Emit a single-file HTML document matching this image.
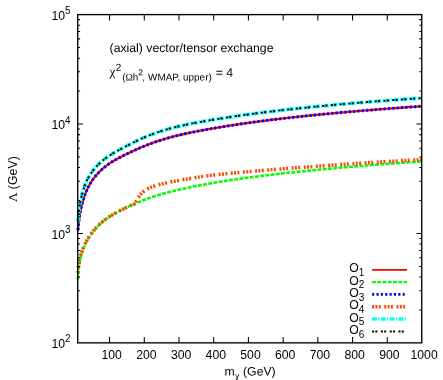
<!DOCTYPE html><html><head><meta charset="utf-8"><style>html,body{margin:0;padding:0;background:#fff}svg{display:block;will-change:transform}text{font-family:"Liberation Sans",sans-serif;fill:#000}.s{font-family:"Liberation Serif",serif}</style></head><body>
<svg width="443" height="380" viewBox="0 0 443 380">
<rect width="443" height="380" fill="#fff"/>
<g fill="none" stroke-linecap="butt" stroke-linejoin="round">
<path d="M77.85,231.44 L77.94,230.39 L78.03,229.38 L78.11,228.40 L78.20,227.45 L78.29,226.53 L78.38,225.64 L78.47,224.78 L78.55,223.96 L78.64,223.17 L78.73,222.40 L78.82,221.66 L78.91,220.95 L78.99,220.26 L79.08,219.59 L79.17,218.94 L79.26,218.31 L79.35,217.70 L79.43,217.11 L79.52,216.53 L79.61,215.97 L79.70,215.43 L79.79,214.90 L79.87,214.38 L79.96,213.87 L80.05,213.38 L80.14,212.89 L80.23,212.42 L80.31,211.96 L80.40,211.50 L80.49,211.06 L80.58,210.62 L80.67,210.19 L80.75,209.76 L80.84,209.34 L80.93,208.93 L81.02,208.53 L81.11,208.13 L81.19,207.73 L81.28,207.34 L81.37,206.96 L81.46,206.58 L81.55,206.21 L81.63,205.83 L81.72,205.47 L81.81,205.11 L81.90,204.75 L81.99,204.40 L82.07,204.05 L82.16,203.70 L82.25,203.36 L82.34,203.02 L82.43,202.69 L82.51,202.36 L82.60,202.04 L82.69,201.72 L82.78,201.40 L82.87,201.08 L82.95,200.77 L83.04,200.47 L83.13,200.16 L83.22,199.87 L83.31,199.57 L83.39,199.28 L83.48,198.99 L83.57,198.70 L83.66,198.42 L83.75,198.14 L83.83,197.86 L83.92,197.59 L84.01,197.32 L84.10,197.05 L84.19,196.79 L84.27,196.53 L84.36,196.27 L84.45,196.01 L84.54,195.76 L84.63,195.51 L84.71,195.26 L84.80,195.02 L85.22,193.90 L85.63,192.84 L86.05,191.82 L86.46,190.85 L86.88,189.92 L87.29,189.03 L87.70,188.17 L88.12,187.35 L88.53,186.55 L88.95,185.78 L89.36,185.03 L89.78,184.31 L90.19,183.61 L90.61,182.93 L91.02,182.27 L91.43,181.62 L91.85,181.00 L92.26,180.39 L92.68,179.79 L93.09,179.21 L93.51,178.65 L93.92,178.10 L94.34,177.56 L94.75,177.03 L95.17,176.51 L95.58,176.01 L95.99,175.51 L96.41,175.03 L96.82,174.55 L97.24,174.09 L97.65,173.63 L98.07,173.19 L98.48,172.75 L98.90,172.31 L99.31,171.89 L99.73,171.47 L100.14,171.06 L100.55,170.66 L100.97,170.27 L101.38,169.88 L101.80,169.50 L102.21,169.12 L102.63,168.75 L103.04,168.39 L103.46,168.04 L103.87,167.69 L104.29,167.34 L104.70,167.00 L105.11,166.67 L105.53,166.34 L105.94,166.02 L106.36,165.70 L106.77,165.39 L107.19,165.08 L107.60,164.78 L108.02,164.48 L108.43,164.19 L108.84,163.90 L109.26,163.62 L109.67,163.34 L110.09,163.07 L110.50,162.80 L110.92,162.53 L111.33,162.26 L111.75,162.00 L112.16,161.75 L112.58,161.49 L112.99,161.24 L113.40,161.00 L113.82,160.75 L114.23,160.51 L114.65,160.27 L115.06,160.03 L115.48,159.79 L115.89,159.56 L116.31,159.33 L116.72,159.10 L117.14,158.87 L117.55,158.65 L117.96,158.42 L118.38,158.20 L118.79,157.98 L119.21,157.76 L119.62,157.54 L120.04,157.33 L120.45,157.11 L120.87,156.90 L121.28,156.68 L121.70,156.47 L122.11,156.26 L122.52,156.05 L122.94,155.84 L123.35,155.63 L123.77,155.42 L124.18,155.22 L124.60,155.01 L125.01,154.81 L125.43,154.60 L125.84,154.40 L126.25,154.20 L126.67,153.99 L127.08,153.79 L127.50,153.59 L127.91,153.39 L128.33,153.19 L128.74,152.99 L129.16,152.79 L129.57,152.60 L129.99,152.40 L130.40,152.20 L130.81,152.01 L131.23,151.81 L131.64,151.62 L132.06,151.43 L132.47,151.23 L132.89,151.04 L133.30,150.85 L133.72,150.66 L134.13,150.47 L134.17,150.46 L134.29,150.40 L134.41,150.35 L134.53,150.29 L134.64,150.24 L134.76,150.18 L134.88,150.13 L135.00,150.07 L135.12,150.02 L135.24,149.97 L135.36,149.91 L135.48,149.86 L135.60,149.81 L135.72,149.75 L135.84,149.70 L135.96,149.64 L136.08,149.59 L136.20,149.54 L136.32,149.48 L136.44,149.43 L136.56,149.38 L136.68,149.32 L136.80,149.27 L136.92,149.22 L137.04,149.17 L137.16,149.11 L137.28,149.06 L137.40,149.01 L137.52,148.95 L137.64,148.90 L138.74,148.42 L139.84,147.95 L140.94,147.48 L142.03,147.02 L143.13,146.57 L144.23,146.12 L145.33,145.68 L146.42,145.25 L147.52,144.82 L148.62,144.40 L149.72,143.98 L150.82,143.57 L151.91,143.17 L153.01,142.77 L154.11,142.38 L155.21,142.00 L156.31,141.62 L157.40,141.25 L158.50,140.89 L159.60,140.53 L160.70,140.18 L161.80,139.84 L162.89,139.50 L163.99,139.17 L165.09,138.84 L166.19,138.52 L167.29,138.21 L168.38,137.90 L169.48,137.60 L170.58,137.30 L171.68,137.01 L172.77,136.72 L173.87,136.43 L174.97,136.16 L176.07,135.88 L177.17,135.61 L178.26,135.34 L179.36,135.08 L180.46,134.82 L181.56,134.57 L182.66,134.32 L183.75,134.07 L184.85,133.82 L185.95,133.58 L187.05,133.34 L188.15,133.11 L189.24,132.87 L190.34,132.64 L191.44,132.42 L192.54,132.19 L193.64,131.97 L194.73,131.75 L195.83,131.53 L196.93,131.32 L198.03,131.11 L199.12,130.89 L200.22,130.69 L201.32,130.48 L202.42,130.27 L203.52,130.07 L204.61,129.87 L205.71,129.67 L206.81,129.47 L207.91,129.27 L209.01,129.08 L210.10,128.88 L211.20,128.69 L212.30,128.50 L213.40,128.31 L214.50,128.12 L215.59,127.94 L216.69,127.75 L217.79,127.57 L218.89,127.38 L219.98,127.20 L221.08,127.02 L222.18,126.84 L223.28,126.66 L224.38,126.48 L225.47,126.31 L226.57,126.13 L227.67,125.96 L228.77,125.79 L229.87,125.61 L230.96,125.44 L232.06,125.27 L233.16,125.11 L234.26,124.94 L235.36,124.77 L236.45,124.61 L237.55,124.44 L238.65,124.28 L239.75,124.12 L240.85,123.96 L241.94,123.80 L243.04,123.64 L244.14,123.48 L245.24,123.32 L246.33,123.17 L247.43,123.01 L248.53,122.86 L249.63,122.70 L250.73,122.55 L251.82,122.40 L252.92,122.25 L254.02,122.10 L255.12,121.95 L256.22,121.80 L257.31,121.66 L258.41,121.51 L259.51,121.37 L260.61,121.22 L261.71,121.08 L262.80,120.94 L263.90,120.79 L265.00,120.65 L266.10,120.51 L267.19,120.37 L268.29,120.24 L269.39,120.10 L270.49,119.96 L271.59,119.83 L272.68,119.69 L273.78,119.56 L274.88,119.42 L275.98,119.29 L277.08,119.16 L278.17,119.03 L279.27,118.90 L280.37,118.77 L281.47,118.64 L282.57,118.51 L283.66,118.38 L284.76,118.25 L285.86,118.13 L286.96,118.00 L288.06,117.88 L289.15,117.75 L290.25,117.63 L291.35,117.51 L292.45,117.39 L293.54,117.26 L294.64,117.14 L295.74,117.02 L296.84,116.90 L297.94,116.78 L299.03,116.67 L300.13,116.55 L301.23,116.43 L302.33,116.32 L303.43,116.20 L304.52,116.08 L305.62,115.97 L306.72,115.86 L307.82,115.74 L308.92,115.63 L310.01,115.52 L311.11,115.40 L312.21,115.29 L313.31,115.18 L314.40,115.07 L315.50,114.96 L316.60,114.85 L317.70,114.74 L318.80,114.64 L319.89,114.53 L320.99,114.42 L322.09,114.31 L323.19,114.21 L324.29,114.10 L325.38,114.00 L326.48,113.89 L327.58,113.79 L328.68,113.68 L329.78,113.58 L330.87,113.48 L331.97,113.38 L333.07,113.27 L334.17,113.17 L335.27,113.07 L336.36,112.97 L337.46,112.87 L338.56,112.77 L339.66,112.67 L340.75,112.57 L341.85,112.47 L342.95,112.38 L344.05,112.28 L345.15,112.18 L346.24,112.08 L347.34,111.99 L348.44,111.89 L349.54,111.80 L350.64,111.70 L351.73,111.61 L352.83,111.51 L353.93,111.42 L355.03,111.32 L356.13,111.23 L357.22,111.14 L358.32,111.05 L359.42,110.95 L360.52,110.86 L361.62,110.77 L362.71,110.68 L363.81,110.59 L364.91,110.50 L366.01,110.41 L367.10,110.32 L368.20,110.23 L369.30,110.14 L370.40,110.05 L371.50,109.96 L372.59,109.88 L373.69,109.79 L374.79,109.70 L375.89,109.61 L376.99,109.53 L378.08,109.44 L379.18,109.35 L380.28,109.27 L381.38,109.18 L382.48,109.10 L383.57,109.01 L384.67,108.93 L385.77,108.84 L386.87,108.76 L387.96,108.68 L389.06,108.59 L390.16,108.51 L391.26,108.43 L392.36,108.35 L393.45,108.26 L394.55,108.18 L395.65,108.10 L396.75,108.02 L397.85,107.94 L398.94,107.86 L400.04,107.78 L401.14,107.70 L402.24,107.62 L403.34,107.54 L404.43,107.46 L405.53,107.38 L406.63,107.30 L407.73,107.22 L408.83,107.14 L409.92,107.06 L411.02,106.99 L412.12,106.91 L413.22,106.83 L414.31,106.75 L415.41,106.68 L416.51,106.60 L417.61,106.52 L418.71,106.45 L419.80,106.37 L420.90,106.30 L422.00,106.22" stroke="#ff0000" stroke-width="2.20"/>
<path d="M77.85,279.52 L77.94,278.22 L78.03,276.96 L78.11,275.76 L78.20,274.61 L78.29,273.51 L78.38,272.47 L78.47,271.49 L78.55,270.57 L78.64,269.69 L78.73,268.87 L78.82,268.10 L78.91,267.37 L78.99,266.67 L79.08,266.01 L79.17,265.38 L79.26,264.78 L79.35,264.20 L79.43,263.65 L79.52,263.11 L79.61,262.60 L79.70,262.11 L79.79,261.63 L79.87,261.17 L79.96,260.72 L80.05,260.28 L80.14,259.86 L80.23,259.45 L80.31,259.05 L80.40,258.66 L80.49,258.28 L80.58,257.91 L80.67,257.55 L80.75,257.19 L80.84,256.85 L80.93,256.51 L81.02,256.17 L81.11,255.84 L81.19,255.52 L81.28,255.20 L81.37,254.89 L81.46,254.58 L81.55,254.28 L81.63,253.98 L81.72,253.68 L81.81,253.39 L81.90,253.11 L81.99,252.82 L82.07,252.54 L82.16,252.27 L82.25,252.00 L82.34,251.73 L82.43,251.46 L82.51,251.20 L82.60,250.94 L82.69,250.69 L82.78,250.43 L82.87,250.18 L82.95,249.94 L83.04,249.69 L83.13,249.45 L83.22,249.21 L83.31,248.98 L83.39,248.74 L83.48,248.51 L83.57,248.28 L83.66,248.06 L83.75,247.83 L83.83,247.61 L83.92,247.39 L84.01,247.17 L84.10,246.96 L84.19,246.75 L84.27,246.54 L84.36,246.33 L84.45,246.12 L84.54,245.91 L84.63,245.71 L84.71,245.51 L84.80,245.31 L85.22,244.40 L85.63,243.52 L86.05,242.67 L86.46,241.85 L86.88,241.06 L87.29,240.30 L87.70,239.56 L88.12,238.85 L88.53,238.15 L88.95,237.48 L89.36,236.82 L89.78,236.18 L90.19,235.56 L90.61,234.95 L91.02,234.36 L91.43,233.78 L91.85,233.21 L92.26,232.66 L92.68,232.12 L93.09,231.58 L93.51,231.06 L93.92,230.56 L94.34,230.06 L94.75,229.57 L95.17,229.09 L95.58,228.62 L95.99,228.16 L96.41,227.71 L96.82,227.26 L97.24,226.83 L97.65,226.40 L98.07,225.98 L98.48,225.57 L98.90,225.16 L99.31,224.76 L99.73,224.37 L100.14,223.99 L100.55,223.61 L100.97,223.24 L101.38,222.87 L101.80,222.51 L102.21,222.16 L102.63,221.81 L103.04,221.46 L103.46,221.13 L103.87,220.79 L104.29,220.47 L104.70,220.14 L105.11,219.83 L105.53,219.51 L105.94,219.20 L106.36,218.90 L106.77,218.60 L107.19,218.30 L107.60,218.01 L108.02,217.73 L108.43,217.44 L108.84,217.16 L109.26,216.89 L109.67,216.62 L110.09,216.35 L110.50,216.08 L110.92,215.82 L111.33,215.56 L111.75,215.31 L112.16,215.06 L112.58,214.81 L112.99,214.56 L113.40,214.31 L113.82,214.07 L114.23,213.83 L114.65,213.60 L115.06,213.36 L115.48,213.13 L115.89,212.90 L116.31,212.67 L116.72,212.44 L117.14,212.22 L117.55,212.00 L117.96,211.77 L118.38,211.56 L118.79,211.34 L119.21,211.12 L119.62,210.91 L120.04,210.69 L120.45,210.48 L120.87,210.27 L121.28,210.06 L121.70,209.86 L122.11,209.65 L122.52,209.44 L122.94,209.24 L123.35,209.04 L123.77,208.83 L124.18,208.63 L124.60,208.43 L125.01,208.24 L125.43,208.04 L125.84,207.84 L126.25,207.65 L126.67,207.45 L127.08,207.26 L127.50,207.06 L127.91,206.87 L128.33,206.68 L128.74,206.49 L129.16,206.30 L129.57,206.11 L129.99,205.92 L130.40,205.73 L130.81,205.54 L131.23,205.36 L131.64,205.17 L132.06,204.99 L132.47,204.80 L132.89,204.62 L133.30,204.43 L133.72,204.25 L134.13,204.07 L134.17,204.05 L134.29,204.00 L134.41,203.95 L134.53,203.90 L134.64,203.84 L134.76,203.79 L134.88,203.74 L135.00,203.69 L135.12,203.63 L135.24,203.58 L135.36,203.53 L135.48,203.48 L135.60,203.43 L135.72,203.37 L135.84,203.32 L135.96,203.27 L136.08,203.22 L136.20,203.17 L136.32,203.11 L136.44,203.06 L136.56,203.01 L136.68,202.96 L136.80,202.91 L136.92,202.86 L137.04,202.81 L137.16,202.75 L137.28,202.70 L137.40,202.65 L137.52,202.60 L137.64,202.55 L138.74,202.09 L139.84,201.63 L140.94,201.18 L142.03,200.74 L143.13,200.30 L144.23,199.88 L145.33,199.46 L146.42,199.05 L147.52,198.64 L148.62,198.25 L149.72,197.86 L150.82,197.48 L151.91,197.11 L153.01,196.74 L154.11,196.39 L155.21,196.04 L156.31,195.70 L157.40,195.36 L158.50,195.03 L159.60,194.71 L160.70,194.39 L161.80,194.08 L162.89,193.77 L163.99,193.47 L165.09,193.17 L166.19,192.88 L167.29,192.59 L168.38,192.31 L169.48,192.02 L170.58,191.75 L171.68,191.47 L172.77,191.20 L173.87,190.93 L174.97,190.67 L176.07,190.41 L177.17,190.15 L178.26,189.89 L179.36,189.64 L180.46,189.39 L181.56,189.14 L182.66,188.89 L183.75,188.65 L184.85,188.41 L185.95,188.17 L187.05,187.93 L188.15,187.69 L189.24,187.46 L190.34,187.23 L191.44,187.00 L192.54,186.78 L193.64,186.55 L194.73,186.33 L195.83,186.11 L196.93,185.90 L198.03,185.68 L199.12,185.47 L200.22,185.26 L201.32,185.05 L202.42,184.84 L203.52,184.63 L204.61,184.43 L205.71,184.23 L206.81,184.03 L207.91,183.83 L209.01,183.64 L210.10,183.44 L211.20,183.25 L212.30,183.06 L213.40,182.87 L214.50,182.68 L215.59,182.50 L216.69,182.31 L217.79,182.13 L218.89,181.95 L219.98,181.77 L221.08,181.59 L222.18,181.42 L223.28,181.24 L224.38,181.07 L225.47,180.90 L226.57,180.73 L227.67,180.56 L228.77,180.39 L229.87,180.23 L230.96,180.06 L232.06,179.90 L233.16,179.74 L234.26,179.58 L235.36,179.42 L236.45,179.26 L237.55,179.10 L238.65,178.94 L239.75,178.79 L240.85,178.63 L241.94,178.48 L243.04,178.33 L244.14,178.18 L245.24,178.03 L246.33,177.88 L247.43,177.73 L248.53,177.58 L249.63,177.44 L250.73,177.29 L251.82,177.15 L252.92,177.01 L254.02,176.86 L255.12,176.72 L256.22,176.58 L257.31,176.44 L258.41,176.30 L259.51,176.16 L260.61,176.03 L261.71,175.89 L262.80,175.75 L263.90,175.62 L265.00,175.49 L266.10,175.35 L267.19,175.22 L268.29,175.09 L269.39,174.96 L270.49,174.83 L271.59,174.70 L272.68,174.57 L273.78,174.44 L274.88,174.31 L275.98,174.19 L277.08,174.06 L278.17,173.93 L279.27,173.81 L280.37,173.68 L281.47,173.56 L282.57,173.44 L283.66,173.31 L284.76,173.19 L285.86,173.07 L286.96,172.95 L288.06,172.83 L289.15,172.71 L290.25,172.59 L291.35,172.47 L292.45,172.35 L293.54,172.24 L294.64,172.12 L295.74,172.00 L296.84,171.89 L297.94,171.77 L299.03,171.66 L300.13,171.54 L301.23,171.43 L302.33,171.32 L303.43,171.21 L304.52,171.09 L305.62,170.98 L306.72,170.87 L307.82,170.76 L308.92,170.65 L310.01,170.54 L311.11,170.43 L312.21,170.32 L313.31,170.21 L314.40,170.11 L315.50,170.00 L316.60,169.89 L317.70,169.79 L318.80,169.68 L319.89,169.58 L320.99,169.47 L322.09,169.37 L323.19,169.26 L324.29,169.16 L325.38,169.06 L326.48,168.95 L327.58,168.85 L328.68,168.75 L329.78,168.65 L330.87,168.55 L331.97,168.45 L333.07,168.34 L334.17,168.24 L335.27,168.15 L336.36,168.05 L337.46,167.95 L338.56,167.85 L339.66,167.75 L340.75,167.65 L341.85,167.56 L342.95,167.46 L344.05,167.36 L345.15,167.27 L346.24,167.17 L347.34,167.08 L348.44,166.98 L349.54,166.89 L350.64,166.79 L351.73,166.70 L352.83,166.61 L353.93,166.51 L355.03,166.42 L356.13,166.33 L357.22,166.24 L358.32,166.15 L359.42,166.05 L360.52,165.96 L361.62,165.87 L362.71,165.78 L363.81,165.69 L364.91,165.60 L366.01,165.51 L367.10,165.43 L368.20,165.34 L369.30,165.25 L370.40,165.16 L371.50,165.07 L372.59,164.99 L373.69,164.90 L374.79,164.81 L375.89,164.73 L376.99,164.64 L378.08,164.55 L379.18,164.47 L380.28,164.38 L381.38,164.30 L382.48,164.21 L383.57,164.13 L384.67,164.05 L385.77,163.96 L386.87,163.88 L387.96,163.80 L389.06,163.71 L390.16,163.63 L391.26,163.55 L392.36,163.47 L393.45,163.38 L394.55,163.30 L395.65,163.22 L396.75,163.14 L397.85,163.06 L398.94,162.98 L400.04,162.90 L401.14,162.82 L402.24,162.74 L403.34,162.66 L404.43,162.58 L405.53,162.50 L406.63,162.43 L407.73,162.35 L408.83,162.27 L409.92,162.19 L411.02,162.11 L412.12,162.04 L413.22,161.96 L414.31,161.88 L415.41,161.81 L416.51,161.73 L417.61,161.66 L418.71,161.58 L419.80,161.50 L420.90,161.43 L422.00,161.35" stroke="#00ff00" stroke-width="2.60" stroke-dasharray="3.9 1.35" stroke-dashoffset="0.3"/>
<path d="M77.85,231.44 L77.94,230.39 L78.03,229.38 L78.11,228.40 L78.20,227.45 L78.29,226.53 L78.38,225.64 L78.47,224.78 L78.55,223.96 L78.64,223.17 L78.73,222.40 L78.82,221.66 L78.91,220.95 L78.99,220.26 L79.08,219.59 L79.17,218.94 L79.26,218.31 L79.35,217.70 L79.43,217.11 L79.52,216.53 L79.61,215.97 L79.70,215.43 L79.79,214.90 L79.87,214.38 L79.96,213.87 L80.05,213.38 L80.14,212.89 L80.23,212.42 L80.31,211.96 L80.40,211.50 L80.49,211.06 L80.58,210.62 L80.67,210.19 L80.75,209.76 L80.84,209.34 L80.93,208.93 L81.02,208.53 L81.11,208.13 L81.19,207.73 L81.28,207.34 L81.37,206.96 L81.46,206.58 L81.55,206.21 L81.63,205.83 L81.72,205.47 L81.81,205.11 L81.90,204.75 L81.99,204.40 L82.07,204.05 L82.16,203.70 L82.25,203.36 L82.34,203.02 L82.43,202.69 L82.51,202.36 L82.60,202.04 L82.69,201.72 L82.78,201.40 L82.87,201.08 L82.95,200.77 L83.04,200.47 L83.13,200.16 L83.22,199.87 L83.31,199.57 L83.39,199.28 L83.48,198.99 L83.57,198.70 L83.66,198.42 L83.75,198.14 L83.83,197.86 L83.92,197.59 L84.01,197.32 L84.10,197.05 L84.19,196.79 L84.27,196.53 L84.36,196.27 L84.45,196.01 L84.54,195.76 L84.63,195.51 L84.71,195.26 L84.80,195.02 L85.22,193.90 L85.63,192.84 L86.05,191.82 L86.46,190.85 L86.88,189.92 L87.29,189.03 L87.70,188.17 L88.12,187.35 L88.53,186.55 L88.95,185.78 L89.36,185.03 L89.78,184.31 L90.19,183.61 L90.61,182.93 L91.02,182.27 L91.43,181.62 L91.85,181.00 L92.26,180.39 L92.68,179.79 L93.09,179.21 L93.51,178.65 L93.92,178.10 L94.34,177.56 L94.75,177.03 L95.17,176.51 L95.58,176.01 L95.99,175.51 L96.41,175.03 L96.82,174.55 L97.24,174.09 L97.65,173.63 L98.07,173.19 L98.48,172.75 L98.90,172.31 L99.31,171.89 L99.73,171.47 L100.14,171.06 L100.55,170.66 L100.97,170.27 L101.38,169.88 L101.80,169.50 L102.21,169.12 L102.63,168.75 L103.04,168.39 L103.46,168.04 L103.87,167.69 L104.29,167.34 L104.70,167.00 L105.11,166.67 L105.53,166.34 L105.94,166.02 L106.36,165.70 L106.77,165.39 L107.19,165.08 L107.60,164.78 L108.02,164.48 L108.43,164.19 L108.84,163.90 L109.26,163.62 L109.67,163.34 L110.09,163.07 L110.50,162.80 L110.92,162.53 L111.33,162.26 L111.75,162.00 L112.16,161.75 L112.58,161.49 L112.99,161.24 L113.40,161.00 L113.82,160.75 L114.23,160.51 L114.65,160.27 L115.06,160.03 L115.48,159.79 L115.89,159.56 L116.31,159.33 L116.72,159.10 L117.14,158.87 L117.55,158.65 L117.96,158.42 L118.38,158.20 L118.79,157.98 L119.21,157.76 L119.62,157.54 L120.04,157.33 L120.45,157.11 L120.87,156.90 L121.28,156.68 L121.70,156.47 L122.11,156.26 L122.52,156.05 L122.94,155.84 L123.35,155.63 L123.77,155.42 L124.18,155.22 L124.60,155.01 L125.01,154.81 L125.43,154.60 L125.84,154.40 L126.25,154.20 L126.67,153.99 L127.08,153.79 L127.50,153.59 L127.91,153.39 L128.33,153.19 L128.74,152.99 L129.16,152.79 L129.57,152.60 L129.99,152.40 L130.40,152.20 L130.81,152.01 L131.23,151.81 L131.64,151.62 L132.06,151.43 L132.47,151.23 L132.89,151.04 L133.30,150.85 L133.72,150.66 L134.13,150.47 L134.17,150.46 L134.29,150.40 L134.41,150.35 L134.53,150.29 L134.64,150.24 L134.76,150.18 L134.88,150.13 L135.00,150.07 L135.12,150.02 L135.24,149.97 L135.36,149.91 L135.48,149.86 L135.60,149.81 L135.72,149.75 L135.84,149.70 L135.96,149.64 L136.08,149.59 L136.20,149.54 L136.32,149.48 L136.44,149.43 L136.56,149.38 L136.68,149.32 L136.80,149.27 L136.92,149.22 L137.04,149.17 L137.16,149.11 L137.28,149.06 L137.40,149.01 L137.52,148.95 L137.64,148.90 L138.74,148.42 L139.84,147.95 L140.94,147.48 L142.03,147.02 L143.13,146.57 L144.23,146.12 L145.33,145.68 L146.42,145.25 L147.52,144.82 L148.62,144.40 L149.72,143.98 L150.82,143.57 L151.91,143.17 L153.01,142.77 L154.11,142.38 L155.21,142.00 L156.31,141.62 L157.40,141.25 L158.50,140.89 L159.60,140.53 L160.70,140.18 L161.80,139.84 L162.89,139.50 L163.99,139.17 L165.09,138.84 L166.19,138.52 L167.29,138.21 L168.38,137.90 L169.48,137.60 L170.58,137.30 L171.68,137.01 L172.77,136.72 L173.87,136.43 L174.97,136.16 L176.07,135.88 L177.17,135.61 L178.26,135.34 L179.36,135.08 L180.46,134.82 L181.56,134.57 L182.66,134.32 L183.75,134.07 L184.85,133.82 L185.95,133.58 L187.05,133.34 L188.15,133.11 L189.24,132.87 L190.34,132.64 L191.44,132.42 L192.54,132.19 L193.64,131.97 L194.73,131.75 L195.83,131.53 L196.93,131.32 L198.03,131.11 L199.12,130.89 L200.22,130.69 L201.32,130.48 L202.42,130.27 L203.52,130.07 L204.61,129.87 L205.71,129.67 L206.81,129.47 L207.91,129.27 L209.01,129.08 L210.10,128.88 L211.20,128.69 L212.30,128.50 L213.40,128.31 L214.50,128.12 L215.59,127.94 L216.69,127.75 L217.79,127.57 L218.89,127.38 L219.98,127.20 L221.08,127.02 L222.18,126.84 L223.28,126.66 L224.38,126.48 L225.47,126.31 L226.57,126.13 L227.67,125.96 L228.77,125.79 L229.87,125.61 L230.96,125.44 L232.06,125.27 L233.16,125.11 L234.26,124.94 L235.36,124.77 L236.45,124.61 L237.55,124.44 L238.65,124.28 L239.75,124.12 L240.85,123.96 L241.94,123.80 L243.04,123.64 L244.14,123.48 L245.24,123.32 L246.33,123.17 L247.43,123.01 L248.53,122.86 L249.63,122.70 L250.73,122.55 L251.82,122.40 L252.92,122.25 L254.02,122.10 L255.12,121.95 L256.22,121.80 L257.31,121.66 L258.41,121.51 L259.51,121.37 L260.61,121.22 L261.71,121.08 L262.80,120.94 L263.90,120.79 L265.00,120.65 L266.10,120.51 L267.19,120.37 L268.29,120.24 L269.39,120.10 L270.49,119.96 L271.59,119.83 L272.68,119.69 L273.78,119.56 L274.88,119.42 L275.98,119.29 L277.08,119.16 L278.17,119.03 L279.27,118.90 L280.37,118.77 L281.47,118.64 L282.57,118.51 L283.66,118.38 L284.76,118.25 L285.86,118.13 L286.96,118.00 L288.06,117.88 L289.15,117.75 L290.25,117.63 L291.35,117.51 L292.45,117.39 L293.54,117.26 L294.64,117.14 L295.74,117.02 L296.84,116.90 L297.94,116.78 L299.03,116.67 L300.13,116.55 L301.23,116.43 L302.33,116.32 L303.43,116.20 L304.52,116.08 L305.62,115.97 L306.72,115.86 L307.82,115.74 L308.92,115.63 L310.01,115.52 L311.11,115.40 L312.21,115.29 L313.31,115.18 L314.40,115.07 L315.50,114.96 L316.60,114.85 L317.70,114.74 L318.80,114.64 L319.89,114.53 L320.99,114.42 L322.09,114.31 L323.19,114.21 L324.29,114.10 L325.38,114.00 L326.48,113.89 L327.58,113.79 L328.68,113.68 L329.78,113.58 L330.87,113.48 L331.97,113.38 L333.07,113.27 L334.17,113.17 L335.27,113.07 L336.36,112.97 L337.46,112.87 L338.56,112.77 L339.66,112.67 L340.75,112.57 L341.85,112.47 L342.95,112.38 L344.05,112.28 L345.15,112.18 L346.24,112.08 L347.34,111.99 L348.44,111.89 L349.54,111.80 L350.64,111.70 L351.73,111.61 L352.83,111.51 L353.93,111.42 L355.03,111.32 L356.13,111.23 L357.22,111.14 L358.32,111.05 L359.42,110.95 L360.52,110.86 L361.62,110.77 L362.71,110.68 L363.81,110.59 L364.91,110.50 L366.01,110.41 L367.10,110.32 L368.20,110.23 L369.30,110.14 L370.40,110.05 L371.50,109.96 L372.59,109.88 L373.69,109.79 L374.79,109.70 L375.89,109.61 L376.99,109.53 L378.08,109.44 L379.18,109.35 L380.28,109.27 L381.38,109.18 L382.48,109.10 L383.57,109.01 L384.67,108.93 L385.77,108.84 L386.87,108.76 L387.96,108.68 L389.06,108.59 L390.16,108.51 L391.26,108.43 L392.36,108.35 L393.45,108.26 L394.55,108.18 L395.65,108.10 L396.75,108.02 L397.85,107.94 L398.94,107.86 L400.04,107.78 L401.14,107.70 L402.24,107.62 L403.34,107.54 L404.43,107.46 L405.53,107.38 L406.63,107.30 L407.73,107.22 L408.83,107.14 L409.92,107.06 L411.02,106.99 L412.12,106.91 L413.22,106.83 L414.31,106.75 L415.41,106.68 L416.51,106.60 L417.61,106.52 L418.71,106.45 L419.80,106.37 L420.90,106.30 L422.00,106.22" stroke="#0000ff" stroke-width="3.00" stroke-dasharray="2.1 2.27" stroke-dashoffset="-1.4"/>
<path d="M77.85,272.74 L77.94,271.66 L78.03,270.62 L78.11,269.62 L78.20,268.66 L78.29,267.76 L78.38,266.90 L78.47,266.09 L78.55,265.33 L78.64,264.62 L78.73,263.95 L78.82,263.32 L78.91,262.73 L78.99,262.17 L79.08,261.64 L79.17,261.13 L79.26,260.65 L79.35,260.19 L79.43,259.75 L79.52,259.32 L79.61,258.91 L79.70,258.52 L79.79,258.13 L79.87,257.76 L79.96,257.40 L80.05,257.05 L80.14,256.71 L80.23,256.38 L80.31,256.06 L80.40,255.74 L80.49,255.44 L80.58,255.13 L80.67,254.84 L80.75,254.55 L80.84,254.26 L80.93,253.98 L81.02,253.71 L81.11,253.43 L81.19,253.17 L81.28,252.90 L81.37,252.64 L81.46,252.38 L81.55,252.13 L81.63,251.87 L81.72,251.62 L81.81,251.37 L81.90,251.13 L81.99,250.89 L82.07,250.65 L82.16,250.41 L82.25,250.18 L82.34,249.94 L82.43,249.71 L82.51,249.49 L82.60,249.26 L82.69,249.04 L82.78,248.82 L82.87,248.60 L82.95,248.38 L83.04,248.16 L83.13,247.95 L83.22,247.74 L83.31,247.53 L83.39,247.32 L83.48,247.12 L83.57,246.91 L83.66,246.71 L83.75,246.51 L83.83,246.31 L83.92,246.11 L84.01,245.92 L84.10,245.73 L84.19,245.53 L84.27,245.34 L84.36,245.15 L84.45,244.97 L84.54,244.78 L84.63,244.59 L84.71,244.41 L84.80,244.23 L85.22,243.39 L85.63,242.58 L86.05,241.79 L86.46,241.03 L86.88,240.30 L87.29,239.58 L87.70,238.89 L88.12,238.21 L88.53,237.55 L88.95,236.91 L89.36,236.28 L89.78,235.67 L90.19,235.07 L90.61,234.49 L91.02,233.92 L91.43,233.36 L91.85,232.81 L92.26,232.28 L92.68,231.75 L93.09,231.24 L93.51,230.73 L93.92,230.24 L94.34,229.75 L94.75,229.27 L95.17,228.80 L95.58,228.35 L95.99,227.90 L96.41,227.45 L96.82,227.02 L97.24,226.59 L97.65,226.17 L98.07,225.76 L98.48,225.35 L98.90,224.96 L99.31,224.56 L99.73,224.18 L100.14,223.80 L100.55,223.43 L100.97,223.06 L101.38,222.70 L101.80,222.35 L102.21,222.00 L102.63,221.65 L103.04,221.31 L103.46,220.98 L103.87,220.65 L104.29,220.33 L104.70,220.01 L105.11,219.69 L105.53,219.38 L105.94,219.08 L106.36,218.78 L106.77,218.48 L107.19,218.19 L107.60,217.90 L108.02,217.62 L108.43,217.34 L108.84,217.06 L109.26,216.79 L109.67,216.52 L110.09,216.25 L110.50,215.99 L110.92,215.73 L111.33,215.47 L111.75,215.22 L112.16,214.97 L112.58,214.72 L112.99,214.48 L113.40,214.23 L113.82,213.99 L114.23,213.76 L114.65,213.52 L115.06,213.29 L115.48,213.06 L115.89,212.83 L116.31,212.60 L116.72,212.37 L117.14,212.15 L117.55,211.93 L117.96,211.71 L118.38,211.49 L118.79,211.27 L119.21,211.06 L119.62,210.85 L120.04,210.63 L120.45,210.42 L120.87,210.21 L121.28,210.01 L121.70,209.80 L122.11,209.59 L122.52,209.39 L122.94,209.19 L123.35,208.98 L123.77,208.78 L124.18,208.58 L124.60,208.38 L125.01,208.19 L125.43,207.99 L125.84,207.79 L126.25,207.60 L126.67,207.40 L127.08,207.21 L127.50,207.02 L127.91,206.83 L128.33,206.64 L128.74,206.45 L129.16,206.26 L129.57,206.07 L129.99,205.88 L130.40,205.69 L130.81,205.51 L131.23,205.32 L131.64,205.13 L132.06,204.95 L132.47,204.76 L132.89,204.58 L133.30,204.40 L133.72,204.22 L134.13,204.03 L134.17,204.02 L134.29,203.84 L134.41,203.66 L134.53,203.48 L134.64,203.29 L134.76,203.11 L134.88,202.93 L135.00,202.75 L135.12,202.57 L135.24,202.39 L135.36,202.20 L135.48,202.02 L135.60,201.84 L135.72,201.66 L135.84,201.47 L135.96,201.29 L136.08,201.11 L136.20,200.93 L136.32,200.74 L136.44,200.56 L136.56,200.37 L136.68,200.19 L136.80,200.00 L136.92,199.81 L137.04,199.62 L137.16,199.43 L137.28,199.24 L137.40,199.05 L137.52,198.87 L137.64,198.68 L138.74,197.03 L139.84,195.47 L140.94,194.02 L142.03,192.86 L143.13,191.87 L144.23,190.97 L145.33,190.17 L146.42,189.47 L147.52,188.89 L148.62,188.35 L149.72,187.84 L150.82,187.37 L151.91,186.95 L153.01,186.57 L154.11,186.21 L155.21,185.86 L156.31,185.52 L157.40,185.19 L158.50,184.86 L159.60,184.54 L160.70,184.24 L161.80,183.94 L162.89,183.65 L163.99,183.39 L165.09,183.14 L166.19,182.90 L167.29,182.67 L168.38,182.44 L169.48,182.23 L170.58,182.01 L171.68,181.80 L172.77,181.59 L173.87,181.37 L174.97,181.16 L176.07,180.96 L177.17,180.76 L178.26,180.56 L179.36,180.37 L180.46,180.18 L181.56,179.99 L182.66,179.80 L183.75,179.61 L184.85,179.42 L185.95,179.22 L187.05,179.03 L188.15,178.84 L189.24,178.65 L190.34,178.46 L191.44,178.27 L192.54,178.09 L193.64,177.90 L194.73,177.72 L195.83,177.54 L196.93,177.36 L198.03,177.19 L199.12,177.01 L200.22,176.84 L201.32,176.67 L202.42,176.50 L203.52,176.34 L204.61,176.18 L205.71,176.02 L206.81,175.87 L207.91,175.72 L209.01,175.58 L210.10,175.45 L211.20,175.32 L212.30,175.19 L213.40,175.06 L214.50,174.94 L215.59,174.82 L216.69,174.70 L217.79,174.58 L218.89,174.46 L219.98,174.35 L221.08,174.23 L222.18,174.11 L223.28,174.00 L224.38,173.88 L225.47,173.77 L226.57,173.65 L227.67,173.54 L228.77,173.43 L229.87,173.32 L230.96,173.21 L232.06,173.10 L233.16,173.00 L234.26,172.89 L235.36,172.79 L236.45,172.69 L237.55,172.59 L238.65,172.49 L239.75,172.39 L240.85,172.30 L241.94,172.20 L243.04,172.11 L244.14,172.02 L245.24,171.93 L246.33,171.84 L247.43,171.75 L248.53,171.66 L249.63,171.57 L250.73,171.48 L251.82,171.38 L252.92,171.29 L254.02,171.20 L255.12,171.10 L256.22,171.01 L257.31,170.91 L258.41,170.82 L259.51,170.73 L260.61,170.63 L261.71,170.54 L262.80,170.44 L263.90,170.35 L265.00,170.26 L266.10,170.16 L267.19,170.07 L268.29,169.98 L269.39,169.89 L270.49,169.80 L271.59,169.71 L272.68,169.62 L273.78,169.52 L274.88,169.43 L275.98,169.34 L277.08,169.26 L278.17,169.17 L279.27,169.08 L280.37,168.99 L281.47,168.90 L282.57,168.81 L283.66,168.73 L284.76,168.64 L285.86,168.56 L286.96,168.47 L288.06,168.39 L289.15,168.30 L290.25,168.22 L291.35,168.14 L292.45,168.06 L293.54,167.98 L294.64,167.89 L295.74,167.81 L296.84,167.73 L297.94,167.65 L299.03,167.58 L300.13,167.50 L301.23,167.42 L302.33,167.34 L303.43,167.26 L304.52,167.18 L305.62,167.10 L306.72,167.03 L307.82,166.95 L308.92,166.88 L310.01,166.80 L311.11,166.73 L312.21,166.65 L313.31,166.57 L314.40,166.50 L315.50,166.42 L316.60,166.34 L317.70,166.26 L318.80,166.18 L319.89,166.10 L320.99,166.02 L322.09,165.94 L323.19,165.86 L324.29,165.78 L325.38,165.70 L326.48,165.62 L327.58,165.54 L328.68,165.46 L329.78,165.37 L330.87,165.29 L331.97,165.21 L333.07,165.13 L334.17,165.06 L335.27,164.98 L336.36,164.90 L337.46,164.82 L338.56,164.75 L339.66,164.67 L340.75,164.59 L341.85,164.52 L342.95,164.44 L344.05,164.36 L345.15,164.29 L346.24,164.21 L347.34,164.14 L348.44,164.06 L349.54,163.99 L350.64,163.92 L351.73,163.85 L352.83,163.77 L353.93,163.70 L355.03,163.63 L356.13,163.56 L357.22,163.49 L358.32,163.42 L359.42,163.35 L360.52,163.28 L361.62,163.22 L362.71,163.15 L363.81,163.08 L364.91,163.01 L366.01,162.94 L367.10,162.87 L368.20,162.80 L369.30,162.72 L370.40,162.65 L371.50,162.58 L372.59,162.51 L373.69,162.44 L374.79,162.37 L375.89,162.29 L376.99,162.22 L378.08,162.15 L379.18,162.08 L380.28,162.01 L381.38,161.94 L382.48,161.87 L383.57,161.80 L384.67,161.73 L385.77,161.66 L386.87,161.59 L387.96,161.52 L389.06,161.45 L390.16,161.38 L391.26,161.31 L392.36,161.24 L393.45,161.18 L394.55,161.11 L395.65,161.04 L396.75,160.97 L397.85,160.91 L398.94,160.84 L400.04,160.77 L401.14,160.71 L402.24,160.64 L403.34,160.57 L404.43,160.51 L405.53,160.44 L406.63,160.38 L407.73,160.31 L408.83,160.25 L409.92,160.18 L411.02,160.12 L412.12,160.05 L413.22,159.99 L414.31,159.92 L415.41,159.86 L416.51,159.80 L417.61,159.73 L418.71,159.67 L419.80,159.61 L420.90,159.54 L422.00,159.48" stroke="#ff4500" stroke-width="3.55" stroke-dasharray="1.95 1.4 1.95 1.4 1.95 3.55" stroke-dashoffset="-5.1"/>
<path d="M77.85,221.71 L77.94,220.50 L78.03,219.33 L78.11,218.21 L78.20,217.13 L78.29,216.11 L78.38,215.14 L78.47,214.22 L78.55,213.35 L78.64,212.53 L78.73,211.76 L78.82,211.03 L78.91,210.34 L78.99,209.68 L79.08,209.05 L79.17,208.44 L79.26,207.85 L79.35,207.29 L79.43,206.74 L79.52,206.21 L79.61,205.69 L79.70,205.18 L79.79,204.68 L79.87,204.19 L79.96,203.71 L80.05,203.25 L80.14,202.79 L80.23,202.34 L80.31,201.89 L80.40,201.46 L80.49,201.03 L80.58,200.61 L80.67,200.19 L80.75,199.78 L80.84,199.38 L80.93,198.98 L81.02,198.59 L81.11,198.21 L81.19,197.82 L81.28,197.45 L81.37,197.07 L81.46,196.71 L81.55,196.34 L81.63,195.98 L81.72,195.63 L81.81,195.28 L81.90,194.93 L81.99,194.59 L82.07,194.25 L82.16,193.91 L82.25,193.58 L82.34,193.26 L82.43,192.93 L82.51,192.61 L82.60,192.30 L82.69,191.99 L82.78,191.68 L82.87,191.37 L82.95,191.07 L83.04,190.77 L83.13,190.48 L83.22,190.19 L83.31,189.90 L83.39,189.62 L83.48,189.34 L83.57,189.06 L83.66,188.79 L83.75,188.51 L83.83,188.25 L83.92,187.98 L84.01,187.72 L84.10,187.46 L84.19,187.20 L84.27,186.95 L84.36,186.70 L84.45,186.45 L84.54,186.21 L84.63,185.97 L84.71,185.73 L84.80,185.49 L85.22,184.41 L85.63,183.39 L86.05,182.41 L86.46,181.47 L86.88,180.58 L87.29,179.72 L87.70,178.90 L88.12,178.11 L88.53,177.34 L88.95,176.61 L89.36,175.90 L89.78,175.21 L90.19,174.55 L90.61,173.90 L91.02,173.28 L91.43,172.67 L91.85,172.08 L92.26,171.51 L92.68,170.95 L93.09,170.40 L93.51,169.87 L93.92,169.35 L94.34,168.85 L94.75,168.35 L95.17,167.87 L95.58,167.40 L95.99,166.94 L96.41,166.49 L96.82,166.04 L97.24,165.61 L97.65,165.19 L98.07,164.77 L98.48,164.36 L98.90,163.96 L99.31,163.56 L99.73,163.18 L100.14,162.79 L100.55,162.42 L100.97,162.05 L101.38,161.69 L101.80,161.34 L102.21,160.99 L102.63,160.64 L103.04,160.30 L103.46,159.97 L103.87,159.64 L104.29,159.32 L104.70,159.00 L105.11,158.68 L105.53,158.37 L105.94,158.07 L106.36,157.77 L106.77,157.47 L107.19,157.18 L107.60,156.89 L108.02,156.60 L108.43,156.32 L108.84,156.04 L109.26,155.77 L109.67,155.50 L110.09,155.23 L110.50,154.97 L110.92,154.70 L111.33,154.44 L111.75,154.19 L112.16,153.94 L112.58,153.68 L112.99,153.43 L113.40,153.19 L113.82,152.94 L114.23,152.70 L114.65,152.46 L115.06,152.22 L115.48,151.98 L115.89,151.75 L116.31,151.51 L116.72,151.28 L117.14,151.05 L117.55,150.82 L117.96,150.59 L118.38,150.36 L118.79,150.13 L119.21,149.90 L119.62,149.68 L120.04,149.45 L120.45,149.23 L120.87,149.01 L121.28,148.79 L121.70,148.56 L122.11,148.34 L122.52,148.12 L122.94,147.90 L123.35,147.68 L123.77,147.47 L124.18,147.25 L124.60,147.03 L125.01,146.81 L125.43,146.60 L125.84,146.38 L126.25,146.17 L126.67,145.95 L127.08,145.73 L127.50,145.52 L127.91,145.31 L128.33,145.09 L128.74,144.88 L129.16,144.67 L129.57,144.45 L129.99,144.24 L130.40,144.03 L130.81,143.82 L131.23,143.61 L131.64,143.40 L132.06,143.19 L132.47,142.99 L132.89,142.78 L133.30,142.58 L133.72,142.37 L134.13,142.17 L134.17,142.15 L134.29,142.09 L134.41,142.03 L134.53,141.97 L134.64,141.91 L134.76,141.86 L134.88,141.80 L135.00,141.74 L135.12,141.68 L135.24,141.62 L135.36,141.56 L135.48,141.51 L135.60,141.45 L135.72,141.39 L135.84,141.33 L135.96,141.28 L136.08,141.22 L136.20,141.16 L136.32,141.10 L136.44,141.05 L136.56,140.99 L136.68,140.93 L136.80,140.87 L136.92,140.82 L137.04,140.76 L137.16,140.70 L137.28,140.65 L137.40,140.59 L137.52,140.53 L137.64,140.48 L138.74,139.96 L139.84,139.46 L140.94,138.96 L142.03,138.46 L143.13,137.98 L144.23,137.50 L145.33,137.03 L146.42,136.57 L147.52,136.12 L148.62,135.67 L149.72,135.24 L150.82,134.81 L151.91,134.39 L153.01,133.97 L154.11,133.57 L155.21,133.17 L156.31,132.78 L157.40,132.40 L158.50,132.02 L159.60,131.65 L160.70,131.29 L161.80,130.94 L162.89,130.60 L163.99,130.26 L165.09,129.93 L166.19,129.61 L167.29,129.29 L168.38,128.98 L169.48,128.67 L170.58,128.37 L171.68,128.08 L172.77,127.79 L173.87,127.51 L174.97,127.23 L176.07,126.96 L177.17,126.70 L178.26,126.43 L179.36,126.18 L180.46,125.92 L181.56,125.67 L182.66,125.43 L183.75,125.19 L184.85,124.95 L185.95,124.72 L187.05,124.49 L188.15,124.26 L189.24,124.04 L190.34,123.82 L191.44,123.60 L192.54,123.39 L193.64,123.17 L194.73,122.96 L195.83,122.76 L196.93,122.55 L198.03,122.35 L199.12,122.15 L200.22,121.95 L201.32,121.75 L202.42,121.55 L203.52,121.36 L204.61,121.17 L205.71,120.98 L206.81,120.79 L207.91,120.60 L209.01,120.41 L210.10,120.23 L211.20,120.05 L212.30,119.86 L213.40,119.68 L214.50,119.50 L215.59,119.32 L216.69,119.14 L217.79,118.97 L218.89,118.79 L219.98,118.61 L221.08,118.44 L222.18,118.27 L223.28,118.09 L224.38,117.92 L225.47,117.75 L226.57,117.58 L227.67,117.41 L228.77,117.25 L229.87,117.08 L230.96,116.91 L232.06,116.75 L233.16,116.59 L234.26,116.42 L235.36,116.26 L236.45,116.10 L237.55,115.94 L238.65,115.78 L239.75,115.63 L240.85,115.47 L241.94,115.31 L243.04,115.16 L244.14,115.00 L245.24,114.85 L246.33,114.70 L247.43,114.55 L248.53,114.40 L249.63,114.25 L250.73,114.10 L251.82,113.95 L252.92,113.80 L254.02,113.65 L255.12,113.51 L256.22,113.36 L257.31,113.22 L258.41,113.08 L259.51,112.94 L260.61,112.79 L261.71,112.65 L262.80,112.51 L263.90,112.37 L265.00,112.24 L266.10,112.10 L267.19,111.96 L268.29,111.83 L269.39,111.69 L270.49,111.56 L271.59,111.42 L272.68,111.29 L273.78,111.16 L274.88,111.03 L275.98,110.90 L277.08,110.77 L278.17,110.64 L279.27,110.51 L280.37,110.38 L281.47,110.26 L282.57,110.13 L283.66,110.00 L284.76,109.88 L285.86,109.75 L286.96,109.63 L288.06,109.51 L289.15,109.39 L290.25,109.26 L291.35,109.14 L292.45,109.02 L293.54,108.90 L294.64,108.79 L295.74,108.67 L296.84,108.55 L297.94,108.43 L299.03,108.32 L300.13,108.20 L301.23,108.09 L302.33,107.97 L303.43,107.86 L304.52,107.74 L305.62,107.63 L306.72,107.52 L307.82,107.41 L308.92,107.30 L310.01,107.18 L311.11,107.07 L312.21,106.96 L313.31,106.86 L314.40,106.75 L315.50,106.64 L316.60,106.53 L317.70,106.42 L318.80,106.32 L319.89,106.21 L320.99,106.11 L322.09,106.00 L323.19,105.90 L324.29,105.79 L325.38,105.69 L326.48,105.59 L327.58,105.48 L328.68,105.38 L329.78,105.28 L330.87,105.18 L331.97,105.08 L333.07,104.98 L334.17,104.88 L335.27,104.78 L336.36,104.68 L337.46,104.58 L338.56,104.48 L339.66,104.38 L340.75,104.29 L341.85,104.19 L342.95,104.09 L344.05,104.00 L345.15,103.90 L346.24,103.81 L347.34,103.71 L348.44,103.62 L349.54,103.52 L350.64,103.43 L351.73,103.34 L352.83,103.24 L353.93,103.15 L355.03,103.06 L356.13,102.97 L357.22,102.88 L358.32,102.78 L359.42,102.69 L360.52,102.60 L361.62,102.51 L362.71,102.42 L363.81,102.33 L364.91,102.24 L366.01,102.16 L367.10,102.07 L368.20,101.98 L369.30,101.89 L370.40,101.80 L371.50,101.72 L372.59,101.63 L373.69,101.54 L374.79,101.46 L375.89,101.37 L376.99,101.29 L378.08,101.20 L379.18,101.12 L380.28,101.03 L381.38,100.95 L382.48,100.87 L383.57,100.78 L384.67,100.70 L385.77,100.62 L386.87,100.53 L387.96,100.45 L389.06,100.37 L390.16,100.29 L391.26,100.21 L392.36,100.12 L393.45,100.04 L394.55,99.96 L395.65,99.88 L396.75,99.80 L397.85,99.72 L398.94,99.64 L400.04,99.56 L401.14,99.48 L402.24,99.41 L403.34,99.33 L404.43,99.25 L405.53,99.17 L406.63,99.09 L407.73,99.02 L408.83,98.94 L409.92,98.86 L411.02,98.79 L412.12,98.71 L413.22,98.63 L414.31,98.56 L415.41,98.48 L416.51,98.41 L417.61,98.33 L418.71,98.26 L419.80,98.18 L420.90,98.11 L422.00,98.03" stroke="#00ffff" stroke-width="3.80" stroke-dasharray="4.7 1.45 1.1 1.55" stroke-dashoffset="0.45"/>
<path d="M77.85,221.71 L77.94,220.50 L78.03,219.33 L78.11,218.21 L78.20,217.13 L78.29,216.11 L78.38,215.14 L78.47,214.22 L78.55,213.35 L78.64,212.53 L78.73,211.76 L78.82,211.03 L78.91,210.34 L78.99,209.68 L79.08,209.05 L79.17,208.44 L79.26,207.85 L79.35,207.29 L79.43,206.74 L79.52,206.21 L79.61,205.69 L79.70,205.18 L79.79,204.68 L79.87,204.19 L79.96,203.71 L80.05,203.25 L80.14,202.79 L80.23,202.34 L80.31,201.89 L80.40,201.46 L80.49,201.03 L80.58,200.61 L80.67,200.19 L80.75,199.78 L80.84,199.38 L80.93,198.98 L81.02,198.59 L81.11,198.21 L81.19,197.82 L81.28,197.45 L81.37,197.07 L81.46,196.71 L81.55,196.34 L81.63,195.98 L81.72,195.63 L81.81,195.28 L81.90,194.93 L81.99,194.59 L82.07,194.25 L82.16,193.91 L82.25,193.58 L82.34,193.26 L82.43,192.93 L82.51,192.61 L82.60,192.30 L82.69,191.99 L82.78,191.68 L82.87,191.37 L82.95,191.07 L83.04,190.77 L83.13,190.48 L83.22,190.19 L83.31,189.90 L83.39,189.62 L83.48,189.34 L83.57,189.06 L83.66,188.79 L83.75,188.51 L83.83,188.25 L83.92,187.98 L84.01,187.72 L84.10,187.46 L84.19,187.20 L84.27,186.95 L84.36,186.70 L84.45,186.45 L84.54,186.21 L84.63,185.97 L84.71,185.73 L84.80,185.49 L85.22,184.41 L85.63,183.39 L86.05,182.41 L86.46,181.47 L86.88,180.58 L87.29,179.72 L87.70,178.90 L88.12,178.11 L88.53,177.34 L88.95,176.61 L89.36,175.90 L89.78,175.21 L90.19,174.55 L90.61,173.90 L91.02,173.28 L91.43,172.67 L91.85,172.08 L92.26,171.51 L92.68,170.95 L93.09,170.40 L93.51,169.87 L93.92,169.35 L94.34,168.85 L94.75,168.35 L95.17,167.87 L95.58,167.40 L95.99,166.94 L96.41,166.49 L96.82,166.04 L97.24,165.61 L97.65,165.19 L98.07,164.77 L98.48,164.36 L98.90,163.96 L99.31,163.56 L99.73,163.18 L100.14,162.79 L100.55,162.42 L100.97,162.05 L101.38,161.69 L101.80,161.34 L102.21,160.99 L102.63,160.64 L103.04,160.30 L103.46,159.97 L103.87,159.64 L104.29,159.32 L104.70,159.00 L105.11,158.68 L105.53,158.37 L105.94,158.07 L106.36,157.77 L106.77,157.47 L107.19,157.18 L107.60,156.89 L108.02,156.60 L108.43,156.32 L108.84,156.04 L109.26,155.77 L109.67,155.50 L110.09,155.23 L110.50,154.97 L110.92,154.70 L111.33,154.44 L111.75,154.19 L112.16,153.94 L112.58,153.68 L112.99,153.43 L113.40,153.19 L113.82,152.94 L114.23,152.70 L114.65,152.46 L115.06,152.22 L115.48,151.98 L115.89,151.75 L116.31,151.51 L116.72,151.28 L117.14,151.05 L117.55,150.82 L117.96,150.59 L118.38,150.36 L118.79,150.13 L119.21,149.90 L119.62,149.68 L120.04,149.45 L120.45,149.23 L120.87,149.01 L121.28,148.79 L121.70,148.56 L122.11,148.34 L122.52,148.12 L122.94,147.90 L123.35,147.68 L123.77,147.47 L124.18,147.25 L124.60,147.03 L125.01,146.81 L125.43,146.60 L125.84,146.38 L126.25,146.17 L126.67,145.95 L127.08,145.73 L127.50,145.52 L127.91,145.31 L128.33,145.09 L128.74,144.88 L129.16,144.67 L129.57,144.45 L129.99,144.24 L130.40,144.03 L130.81,143.82 L131.23,143.61 L131.64,143.40 L132.06,143.19 L132.47,142.99 L132.89,142.78 L133.30,142.58 L133.72,142.37 L134.13,142.17 L134.17,142.15 L134.29,142.09 L134.41,142.03 L134.53,141.97 L134.64,141.91 L134.76,141.86 L134.88,141.80 L135.00,141.74 L135.12,141.68 L135.24,141.62 L135.36,141.56 L135.48,141.51 L135.60,141.45 L135.72,141.39 L135.84,141.33 L135.96,141.28 L136.08,141.22 L136.20,141.16 L136.32,141.10 L136.44,141.05 L136.56,140.99 L136.68,140.93 L136.80,140.87 L136.92,140.82 L137.04,140.76 L137.16,140.70 L137.28,140.65 L137.40,140.59 L137.52,140.53 L137.64,140.48 L138.74,139.96 L139.84,139.46 L140.94,138.96 L142.03,138.46 L143.13,137.98 L144.23,137.50 L145.33,137.03 L146.42,136.57 L147.52,136.12 L148.62,135.67 L149.72,135.24 L150.82,134.81 L151.91,134.39 L153.01,133.97 L154.11,133.57 L155.21,133.17 L156.31,132.78 L157.40,132.40 L158.50,132.02 L159.60,131.65 L160.70,131.29 L161.80,130.94 L162.89,130.60 L163.99,130.26 L165.09,129.93 L166.19,129.61 L167.29,129.29 L168.38,128.98 L169.48,128.67 L170.58,128.37 L171.68,128.08 L172.77,127.79 L173.87,127.51 L174.97,127.23 L176.07,126.96 L177.17,126.70 L178.26,126.43 L179.36,126.18 L180.46,125.92 L181.56,125.67 L182.66,125.43 L183.75,125.19 L184.85,124.95 L185.95,124.72 L187.05,124.49 L188.15,124.26 L189.24,124.04 L190.34,123.82 L191.44,123.60 L192.54,123.39 L193.64,123.17 L194.73,122.96 L195.83,122.76 L196.93,122.55 L198.03,122.35 L199.12,122.15 L200.22,121.95 L201.32,121.75 L202.42,121.55 L203.52,121.36 L204.61,121.17 L205.71,120.98 L206.81,120.79 L207.91,120.60 L209.01,120.41 L210.10,120.23 L211.20,120.05 L212.30,119.86 L213.40,119.68 L214.50,119.50 L215.59,119.32 L216.69,119.14 L217.79,118.97 L218.89,118.79 L219.98,118.61 L221.08,118.44 L222.18,118.27 L223.28,118.09 L224.38,117.92 L225.47,117.75 L226.57,117.58 L227.67,117.41 L228.77,117.25 L229.87,117.08 L230.96,116.91 L232.06,116.75 L233.16,116.59 L234.26,116.42 L235.36,116.26 L236.45,116.10 L237.55,115.94 L238.65,115.78 L239.75,115.63 L240.85,115.47 L241.94,115.31 L243.04,115.16 L244.14,115.00 L245.24,114.85 L246.33,114.70 L247.43,114.55 L248.53,114.40 L249.63,114.25 L250.73,114.10 L251.82,113.95 L252.92,113.80 L254.02,113.65 L255.12,113.51 L256.22,113.36 L257.31,113.22 L258.41,113.08 L259.51,112.94 L260.61,112.79 L261.71,112.65 L262.80,112.51 L263.90,112.37 L265.00,112.24 L266.10,112.10 L267.19,111.96 L268.29,111.83 L269.39,111.69 L270.49,111.56 L271.59,111.42 L272.68,111.29 L273.78,111.16 L274.88,111.03 L275.98,110.90 L277.08,110.77 L278.17,110.64 L279.27,110.51 L280.37,110.38 L281.47,110.26 L282.57,110.13 L283.66,110.00 L284.76,109.88 L285.86,109.75 L286.96,109.63 L288.06,109.51 L289.15,109.39 L290.25,109.26 L291.35,109.14 L292.45,109.02 L293.54,108.90 L294.64,108.79 L295.74,108.67 L296.84,108.55 L297.94,108.43 L299.03,108.32 L300.13,108.20 L301.23,108.09 L302.33,107.97 L303.43,107.86 L304.52,107.74 L305.62,107.63 L306.72,107.52 L307.82,107.41 L308.92,107.30 L310.01,107.18 L311.11,107.07 L312.21,106.96 L313.31,106.86 L314.40,106.75 L315.50,106.64 L316.60,106.53 L317.70,106.42 L318.80,106.32 L319.89,106.21 L320.99,106.11 L322.09,106.00 L323.19,105.90 L324.29,105.79 L325.38,105.69 L326.48,105.59 L327.58,105.48 L328.68,105.38 L329.78,105.28 L330.87,105.18 L331.97,105.08 L333.07,104.98 L334.17,104.88 L335.27,104.78 L336.36,104.68 L337.46,104.58 L338.56,104.48 L339.66,104.38 L340.75,104.29 L341.85,104.19 L342.95,104.09 L344.05,104.00 L345.15,103.90 L346.24,103.81 L347.34,103.71 L348.44,103.62 L349.54,103.52 L350.64,103.43 L351.73,103.34 L352.83,103.24 L353.93,103.15 L355.03,103.06 L356.13,102.97 L357.22,102.88 L358.32,102.78 L359.42,102.69 L360.52,102.60 L361.62,102.51 L362.71,102.42 L363.81,102.33 L364.91,102.24 L366.01,102.16 L367.10,102.07 L368.20,101.98 L369.30,101.89 L370.40,101.80 L371.50,101.72 L372.59,101.63 L373.69,101.54 L374.79,101.46 L375.89,101.37 L376.99,101.29 L378.08,101.20 L379.18,101.12 L380.28,101.03 L381.38,100.95 L382.48,100.87 L383.57,100.78 L384.67,100.70 L385.77,100.62 L386.87,100.53 L387.96,100.45 L389.06,100.37 L390.16,100.29 L391.26,100.21 L392.36,100.12 L393.45,100.04 L394.55,99.96 L395.65,99.88 L396.75,99.80 L397.85,99.72 L398.94,99.64 L400.04,99.56 L401.14,99.48 L402.24,99.41 L403.34,99.33 L404.43,99.25 L405.53,99.17 L406.63,99.09 L407.73,99.02 L408.83,98.94 L409.92,98.86 L411.02,98.79 L412.12,98.71 L413.22,98.63 L414.31,98.56 L415.41,98.48 L416.51,98.41 L417.61,98.33 L418.71,98.26 L419.80,98.18 L420.90,98.11 L422.00,98.03" stroke="#000000" stroke-width="2.00" stroke-dasharray="2.05 1.2 2.05 3.5" stroke-dashoffset="2.25"/>
</g>
<g fill="none">
<path d="M372.1,269.9 H407.1" stroke="#ff0000" stroke-width="1.90"/>
<path d="M372.1,282.1 H407.1" stroke="#00ff00" stroke-width="2.35" stroke-dasharray="3.9 1.35"/>
<path d="M372.1,294.4 H407.1" stroke="#0000ff" stroke-width="2.90" stroke-dasharray="2.1 2.27"/>
<path d="M372.1,306.8 H407.1" stroke="#ff4500" stroke-width="3.40" stroke-dasharray="1.95 1.4 1.95 1.4 1.95 3.55"/>
<path d="M372.1,319.0 H407.1" stroke="#00ffff" stroke-width="3.60" stroke-dasharray="4.7 1.45 1.1 1.55"/>
<path d="M372.1,331.4 H407.1" stroke="#000000" stroke-width="2.00" stroke-dasharray="2.05 1.2 2.05 3.5"/>
</g>
<text transform="matrix(1 0.0005 0 1.05 0 0)" x="349.20" y="259.31" font-size="12.24">O<tspan font-size="10.04" dy="3.62">1</tspan></text>
<text transform="matrix(1 0.0005 0 1.05 0 0)" x="349.20" y="270.93" font-size="12.24">O<tspan font-size="10.04" dy="3.62">2</tspan></text>
<text transform="matrix(1 0.0005 0 1.05 0 0)" x="349.20" y="282.69" font-size="12.24">O<tspan font-size="10.04" dy="3.62">3</tspan></text>
<text transform="matrix(1 0.0005 0 1.05 0 0)" x="349.20" y="294.45" font-size="12.24">O<tspan font-size="10.04" dy="3.62">4</tspan></text>
<text transform="matrix(1 0.0005 0 1.05 0 0)" x="349.20" y="306.12" font-size="12.24">O<tspan font-size="10.04" dy="3.62">5</tspan></text>
<text transform="matrix(1 0.0005 0 1.05 0 0)" x="349.20" y="317.88" font-size="12.24">O<tspan font-size="10.04" dy="3.62">6</tspan></text>
<g stroke="#000" stroke-width="1.35" fill="none" stroke-linecap="butt">
<path d="M77.72,309.96h2.40 M421.75,309.96h-2.40 M77.72,290.69h2.40 M421.75,290.69h-2.40 M77.72,277.01h2.40 M421.75,277.01h-2.40 M77.72,266.41h2.40 M421.75,266.41h-2.40 M77.72,257.74h2.40 M421.75,257.74h-2.40 M77.72,250.42h2.40 M421.75,250.42h-2.40 M77.72,244.07h2.40 M421.75,244.07h-2.40 M77.72,238.47h2.40 M421.75,238.47h-2.40 M77.72,233.47h5.20 M421.75,233.47h-5.20 M77.72,200.52h2.40 M421.75,200.52h-2.40 M77.72,181.25h2.40 M421.75,181.25h-2.40 M77.72,167.58h2.40 M421.75,167.58h-2.40 M77.72,156.98h2.40 M421.75,156.98h-2.40 M77.72,148.31h2.40 M421.75,148.31h-2.40 M77.72,140.98h2.40 M421.75,140.98h-2.40 M77.72,134.64h2.40 M421.75,134.64h-2.40 M77.72,129.04h2.40 M421.75,129.04h-2.40 M77.72,124.03h5.20 M421.75,124.03h-5.20 M77.72,91.09h2.40 M421.75,91.09h-2.40 M77.72,71.82h2.40 M421.75,71.82h-2.40 M77.72,58.15h2.40 M421.75,58.15h-2.40 M77.72,47.54h2.40 M421.75,47.54h-2.40 M77.72,38.88h2.40 M421.75,38.88h-2.40 M77.72,31.55h2.40 M421.75,31.55h-2.40 M77.72,25.21h2.40 M421.75,25.21h-2.40 M77.72,19.61h2.40 M421.75,19.61h-2.40 M109.56,342.85v-5.90 M109.56,14.60v5.90 M144.28,342.85v-5.90 M144.28,14.60v5.90 M178.99,342.85v-5.90 M178.99,14.60v5.90 M213.71,342.85v-5.90 M213.71,14.60v5.90 M248.42,342.85v-5.90 M248.42,14.60v5.90 M283.14,342.85v-5.90 M283.14,14.60v5.90 M317.86,342.85v-5.90 M317.86,14.60v5.90 M352.57,342.85v-5.90 M352.57,14.60v5.90 M387.29,342.85v-5.90 M387.29,14.60v5.90" stroke-width="1.05"/>
<rect x="77.72" y="14.60" width="344.03" height="328.25" stroke-linejoin="miter"/>
</g>
<text transform="matrix(1 0.0005 0 1.05 0 0)" x="111.66" y="342.04" font-size="12.24" text-anchor="middle">100</text>
<text transform="matrix(1 0.0005 0 1.05 0 0)" x="146.38" y="342.03" font-size="12.24" text-anchor="middle">200</text>
<text transform="matrix(1 0.0005 0 1.05 0 0)" x="181.09" y="342.01" font-size="12.24" text-anchor="middle">300</text>
<text transform="matrix(1 0.0005 0 1.05 0 0)" x="215.81" y="341.99" font-size="12.24" text-anchor="middle">400</text>
<text transform="matrix(1 0.0005 0 1.05 0 0)" x="250.52" y="341.98" font-size="12.24" text-anchor="middle">500</text>
<text transform="matrix(1 0.0005 0 1.05 0 0)" x="285.24" y="341.96" font-size="12.24" text-anchor="middle">600</text>
<text transform="matrix(1 0.0005 0 1.05 0 0)" x="319.96" y="341.94" font-size="12.24" text-anchor="middle">700</text>
<text transform="matrix(1 0.0005 0 1.05 0 0)" x="354.67" y="341.93" font-size="12.24" text-anchor="middle">800</text>
<text transform="matrix(1 0.0005 0 1.05 0 0)" x="389.39" y="341.91" font-size="12.24" text-anchor="middle">900</text>
<text transform="matrix(1 0.0005 0 1.05 0 0)" x="424.10" y="341.89" font-size="12.24" text-anchor="middle">1000</text>
<text transform="matrix(1 0.0005 0 1.05 0 0)" x="70.60" y="331.68" font-size="12.24" text-anchor="end">10<tspan font-size="9.91" dy="-5.62">2</tspan></text>
<text transform="matrix(1 0.0005 0 1.05 0 0)" x="70.60" y="227.46" font-size="12.24" text-anchor="end">10<tspan font-size="9.91" dy="-5.62">3</tspan></text>
<text transform="matrix(1 0.0005 0 1.05 0 0)" x="70.60" y="123.23" font-size="12.24" text-anchor="end">10<tspan font-size="9.91" dy="-5.62">4</tspan></text>
<text transform="matrix(1 0.0005 0 1.05 0 0)" x="70.60" y="19.01" font-size="12.24" text-anchor="end">10<tspan font-size="9.91" dy="-5.62">5</tspan></text>
<text transform="matrix(1 0.0005 0 1 0 0)" x="224.60" y="375.49" font-size="12.24">m<tspan class="s" font-size="10.91" dy="3.90">χ</tspan><tspan dy="-3.90" dx="0.00"> (GeV)</tspan></text>
<text transform="translate(16.60,202.00) rotate(-90)" font-size="12.24"><tspan class="s" font-size="13.2">Λ</tspan><tspan dx="-0.40" letter-spacing="0.15"> (GeV)</tspan></text>
<text transform="matrix(1 0.0005 0 1 0 0)" x="109.60" y="51.85" font-size="12.24">(axial) vector/tensor exchange</text>
<text transform="matrix(1 0.0005 0 1 0 0)" x="109.50" y="76.55" font-size="12.24"><tspan class="s" dy="-0.8" font-size="13.2">χ</tspan><tspan font-size="9.91" dy="-5.10" dx="0.50">2</tspan><tspan font-size="9.91" dy="9.80" dx="0.90">(<tspan class="s">Ω</tspan><tspan dx="-0.30">h</tspan></tspan><tspan font-size="8.57" dy="-5.30" dx="0.20">2</tspan><tspan font-size="9.91" dy="5.30" dx="-0.90">,</tspan><tspan font-size="9.91" dx="0.30"> WMAP, upper)</tspan><tspan dy="-3.90" dx="0.50"> = 4</tspan></text>
</svg></body></html>
